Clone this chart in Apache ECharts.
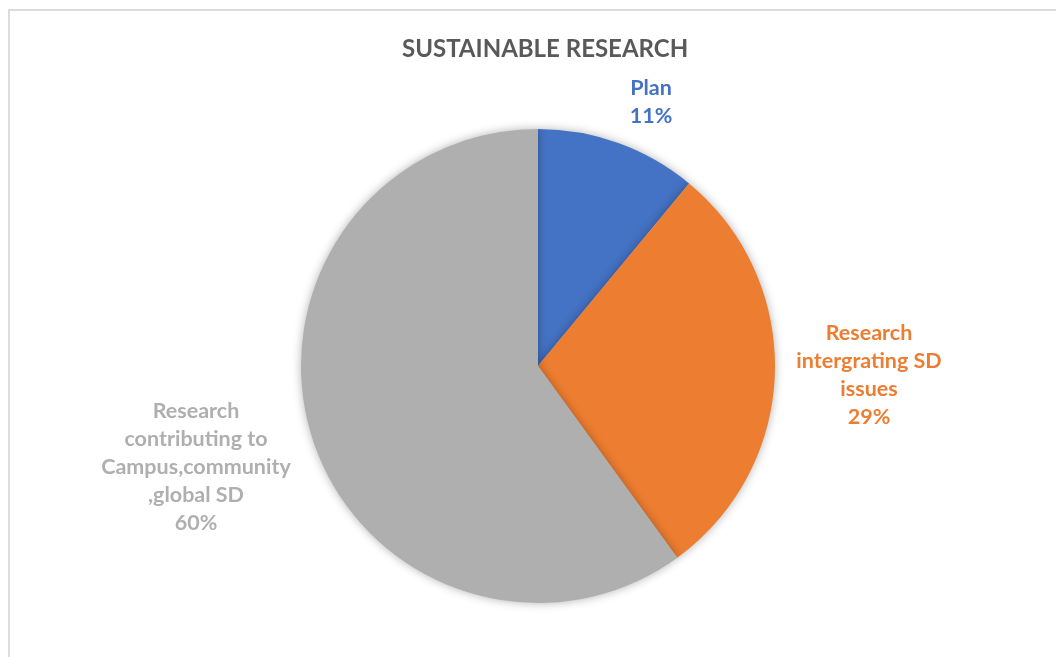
<!DOCTYPE html>
<html><head><meta charset="utf-8">
<script src="https://cdn.jsdelivr.net/npm/echarts@6/dist/echarts.min.js"></script>
<style>html,body{margin:0;padding:0;background:#fff}#c{width:1056px;height:657px}</style>
</head><body><div id="c"></div>
<script>
var categories = ["Plan", "Research\nintergrating SD\nissues", "Research\ncontributing to\nCampus,community\n,global SD"];
var values = [11, 29, 60];
var colors = ["#4472C4", "#ED7D31", "#AFAFAF"];
var labelPos = [[651, 102], [869, 375], [196, 467]];

var chart = echarts.init(document.getElementById('c'));
chart.setOption({
  animation: false,
  title: {
    text: 'SUSTAINABLE RESEARCH', left: 397, top: 32,
    textStyle: {fontFamily: 'Lato', fontWeight: 'bold', fontSize: 24, color: '#595959'}
  },
  graphic: [{type: 'rect', shape: {x: 9, y: 10, width: 1100, height: 700}, style: {fill: 'none', stroke: '#dcdcdc', lineWidth: 2}}],
  series: [{
    type: 'pie',
    center: [538, 366], radius: 237,
    startAngle: 90, clockwise: true,
    data: categories.map(function (c, i) { return {name: c, value: values[i], itemStyle: {color: colors[i]}, label: {color: colors[i]}}; }),
    itemStyle: {shadowBlur: 10, shadowColor: 'rgba(0,0,0,0.3)'},
    label: {
      show: true, formatter: '{b}\n{d}%', position: 'outside',
      fontFamily: 'Lato', fontWeight: 'bold', fontSize: 21.5, lineHeight: 28, align: 'center'
    },
    labelLine: {show: false},
    labelLayout: function (p) {
      var pos = labelPos[p.dataIndex];
      return {x: pos[0], y: pos[1], align: 'center', verticalAlign: 'middle'};
    }
  }]
});
</script></body></html>
